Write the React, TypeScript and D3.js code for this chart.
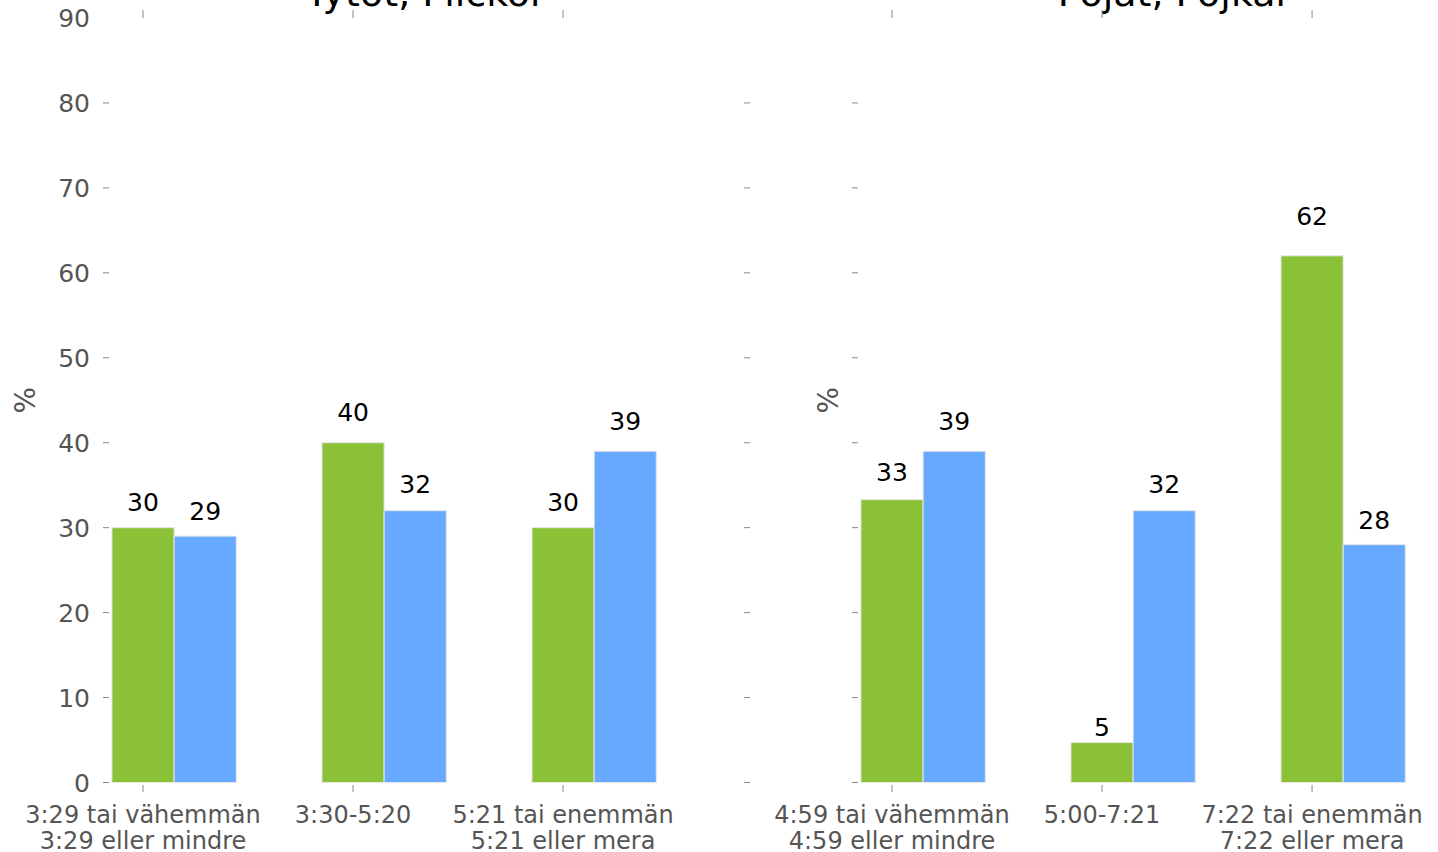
import React from "react";
import * as d3 from "d3";

const W = 1438;
const H = 852;

const panelTitles = ["Tytöt, Flickor", "Pojat, Pojkar"];
const girlsCategories = [
  ["3:29 tai vähemmän", "3:29 eller mindre"],
  ["3:30-5:20"],
  ["5:21 tai enemmän", "5:21 eller mera"],
];
const boysCategories = [
  ["4:59 tai vähemmän", "4:59 eller mindre"],
  ["5:00-7:21"],
  ["7:22 tai enemmän", "7:22 eller mera"],
];
const girlsGreen = [30, 40, 30];
const girlsBlue = [29, 32, 39];
const boysGreen = [33.3, 4.7, 62];
const boysBlue = [39, 32, 28];
const yTicks = [0, 10, 20, 30, 40, 50, 60, 70, 80, 90];

const GREEN = "#8bc136";
const BLUE = "#66a9ff";
const TICK_GREY = "#555555";
const FONT = "DejaVu Sans, sans-serif";

const y = d3.scaleLinear().domain([0, 90]).range([782.5, 18]);
const barW = 0.296;

type PanelProps = {
  left: number;
  title: string;
  cats: string[][];
  green: number[];
  blue: number[];
  showYLabels: boolean;
  pctOffset: number;
  extraTickX?: number;
};

function Panel({ left, title, cats, green, blue, showYLabels, pctOffset, extraTickX }: PanelProps) {
  const x = d3.scaleLinear().domain([-0.162, 2.852]).range([left, left + 633]);
  const fmt = d3.format(".0f");
  const series = [
    { vals: green, color: GREEN, off: 0 },
    { vals: blue, color: BLUE, off: barW },
  ];
  return (
    <g>
      <text
        x={(x.range()[0] + x.range()[1]) / 2}
        y={6}
        textAnchor="middle"
        fontSize={38}
        fill="#000"
      >
        {title}
      </text>
      {yTicks.map((t) => (
        <g key={t}>
          {t < 90 && (
            <line x1={left - 6} x2={left} y1={y(t)} y2={y(t)} stroke="#888" strokeWidth={1} />
          )}
          {t < 90 && extraTickX !== undefined && (
            <line x1={extraTickX} x2={extraTickX + 6} y1={y(t)} y2={y(t)} stroke="#888" strokeWidth={1} />
          )}
          {showYLabels && (
            <text x={left - 19} y={y(t)} dy="0.36em" textAnchor="end" fontSize={25} fill={TICK_GREY}>
              {t}
            </text>
          )}
        </g>
      ))}
      <text
        transform={`translate(${left - pctOffset},${y(45)}) rotate(-90)`}
        textAnchor="middle"
        dy="0.36em"
        fontSize={28}
        fill={TICK_GREY}
      >
        %
      </text>
      {series.map((s, si) =>
        s.vals.map((v, i) => (
          <rect
            key={`${si}-${i}`}
            x={x(i + s.off - barW / 2)}
            y={y(v)}
            width={x(barW) - x(0)}
            height={y(0) - y(v)}
            fill={s.color}
            stroke="#e6e6e6"
            strokeWidth={1}
          />
        ))
      )}
      {series.map((s, si) =>
        s.vals.map((v, i) => (
          <text
            key={`l${si}-${i}`}
            x={x(i + s.off)}
            y={y(v * 1.05 + 0.5)}
            textAnchor="middle"
            fontSize={25}
            fill="#000"
          >
            {fmt(v)}
          </text>
        ))
      )}
      {cats.map((c, i) => (
        <g key={i}>
          <line x1={x(i)} x2={x(i)} y1={10} y2={18} stroke="#888" strokeWidth={1} />
          <line x1={x(i)} x2={x(i)} y1={785} y2={792} stroke="#888" strokeWidth={1} />
          {c.map((line, li) => (
            <text key={li} x={x(i)} y={823 + li * 26} textAnchor="middle" fontSize={24} fill={TICK_GREY}>
              {line}
            </text>
          ))}
        </g>
      ))}
    </g>
  );
}

export default function App() {
  return (
    <svg
      width={W}
      height={H}
      style={{ position: "absolute", left: 0, top: 0, display: "block", background: "#fff" }}
      fontFamily={FONT}
    >
      <Panel
        left={109}
        title={panelTitles[0]}
        cats={girlsCategories}
        green={girlsGreen}
        blue={girlsBlue}
        showYLabels={true}
        pctOffset={84}
        extraTickX={744}
      />
      <Panel
        left={858}
        title={panelTitles[1]}
        cats={boysCategories}
        green={boysGreen}
        blue={boysBlue}
        showYLabels={false}
        pctOffset={30}
      />
    </svg>
  );
}
